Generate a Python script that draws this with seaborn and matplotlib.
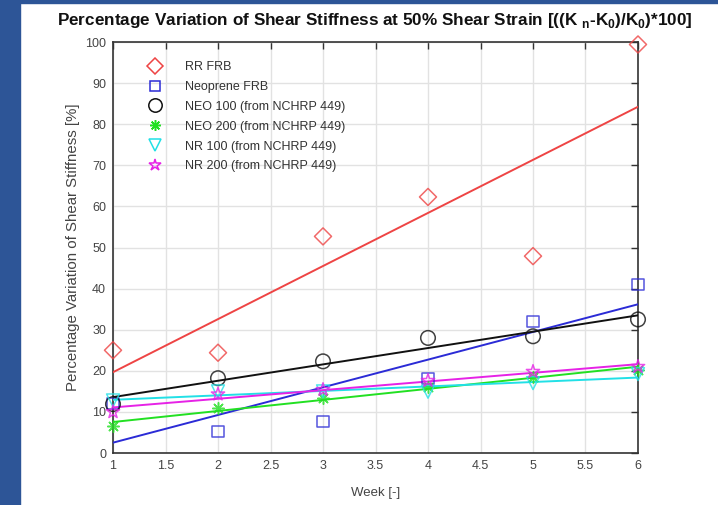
import numpy as np
import pandas as pd
import matplotlib
matplotlib.use("Agg")
import matplotlib.pyplot as plt
from matplotlib.lines import Line2D
from matplotlib.patches import Rectangle
import seaborn as sns

weeks = [1, 2, 3, 4, 5, 6]
rr_frb = [25.0, 24.4, 52.7, 62.3, 47.9, 99.4]
neoprene_frb = [12.0, 5.3, 7.6, 18.2, 32.0, 41.0]
neo_100 = [11.9, 18.2, 22.3, 28.0, 28.4, 32.5]
neo_200 = [6.5, 11.0, 13.3, 16.0, 18.5, 20.3]
nr_100 = [12.8, 15.0, 15.0, 14.9, 17.0, 19.2]
nr_200 = [10.0, 14.3, 15.4, 17.6, 19.8, 21.0]

series_names = ["RR FRB", "Neoprene FRB", "NEO 100 (from NCHRP 449)",
                "NEO 200 (from NCHRP 449)", "NR 100 (from NCHRP 449)",
                "NR 200 (from NCHRP 449)"]
series_values = [rr_frb, neoprene_frb, neo_100, neo_200, nr_100, nr_200]
colors = ["#EE4444", "#2B2BD6", "#111111", "#22E022", "#22E0E6", "#E622E6"]
markers = ["D", "s", "o", (8, 2, 0), "v", "*"]
msizes = [75, 65, 110, 70, 85, 100]
xticks = [1, 1.5, 2, 2.5, 3, 3.5, 4, 4.5, 5, 5.5, 6]
yticks = list(range(0, 101, 10))

sns.set_theme(style="white")
plt.rcParams['font.family'] = ['Liberation Sans', 'DejaVu Sans']
plt.rcParams['mathtext.fontset'] = 'custom'
plt.rcParams['mathtext.rm'] = 'Liberation Sans'
plt.rcParams['mathtext.bf'] = 'Liberation Sans:bold'

fig = plt.figure(figsize=(7.18, 5.05), dpi=100)
fig.patch.set_facecolor("white")
# blue frame strips
fig.add_artist(Rectangle((0, 0), 20 / 718, 1, transform=fig.transFigure,
                         color="#2D5597", zorder=0))
fig.add_artist(Rectangle((0, 1 - 3 / 505), 1, 3 / 505, transform=fig.transFigure,
                         color="#2D5597", zorder=0))

ax = fig.add_axes([113 / 718, 1 - 453 / 505, (638 - 113) / 718, (453 - 42) / 505])

handles = []
for name, vals, c, m, s in zip(series_names, series_values, colors, markers, msizes):
    df = pd.DataFrame({"week": weeks, "value": vals})
    open_marker = not (isinstance(m, tuple))
    skw = dict(s=s, linewidths=1.1, zorder=4, clip_on=False)
    if open_marker:
        skw["facecolors"] = "none"
    sns.regplot(data=df, x="week", y="value", ax=ax, ci=None, color=c,
                marker=m, scatter_kws=skw, line_kws=dict(lw=1.4, zorder=3))
    handles.append(Line2D([], [], ls="none", marker=m, markersize=np.sqrt(s) * 0.92,
                          markerfacecolor="none" if open_marker else c,
                          markeredgecolor=c, markeredgewidth=1.1, label=name))

ax.set_xlim(1, 6)
ax.set_ylim(0, 100)
ax.set_xticks(xticks)
ax.set_xticklabels([f"{t:g}" for t in xticks])
ax.set_yticks(yticks)
ax.grid(True, color="#E2E2E2", lw=1)
ax.set_axisbelow(True)
for sp in ax.spines.values():
    sp.set_color("#333333")
    sp.set_linewidth(1.2)
ax.tick_params(direction="in", length=5, width=1, top=True, right=True,
               labelsize=9, colors="#333333", labelcolor="#444444", pad=5)
ax.set_xlabel("Week [-]", fontsize=9.5, color="#444444", labelpad=11)
ax.set_ylabel("Percentage Variation of Shear Stiffness [%]", fontsize=10.8,
              color="#444444", labelpad=4)
fig.text(375 / 718, 1 - 20 / 505,
         r"Percentage Variation of Shear Stiffness at 50% Shear Strain "
         r"[((K $_{\mathbf{n}}$-K$_{\mathbf{0}}$)/K$_{\mathbf{0}}$)*100]",
         ha="center", va="center", fontsize=12.3, fontweight="bold", color="#111111")

leg = ax.legend(handles=handles, loc="upper left", frameon=False, fontsize=9,
                bbox_to_anchor=(0.04, 0.975), handletextpad=1.35, labelspacing=0.63,
                borderaxespad=0.3)
for t in leg.get_texts():
    t.set_color("#333333")

fig.savefig("out.png", dpi=100)
